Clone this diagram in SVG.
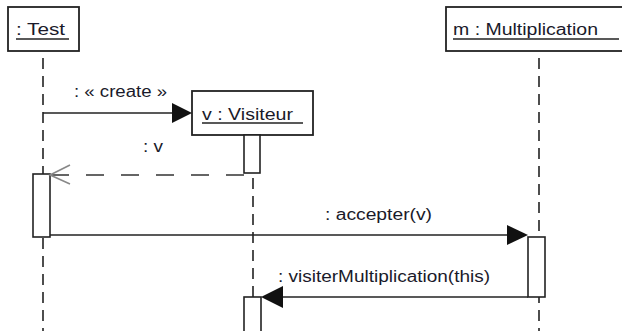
<svg xmlns="http://www.w3.org/2000/svg" width="622" height="331" viewBox="0 0 622 331">
<style>
.box{fill:#fff;stroke:#222;stroke-width:1.8}
.act{fill:#fff;stroke:#222;stroke-width:1.6}
.life{stroke:#222;stroke-width:1.6;stroke-dasharray:11 7;fill:none}
.msg{stroke:#222;stroke-width:1.6;fill:none}
.ret{stroke:#333;stroke-width:1.6;fill:none;stroke-dasharray:18 17}
.ul{stroke:#222;stroke-width:1.4}
text{font-family:"Liberation Sans",Arial,sans-serif;font-size:16px;fill:#1a1a2a}
.head{fill:#111;stroke:none}
</style>
<g id="lifelines">
<line class="life" x1="43" y1="58" x2="43" y2="331"/>
<line class="life" x1="253" y1="142" x2="253" y2="331"/>
<line class="life" x1="539" y1="58" x2="539" y2="331"/>
</g>
<g id="test">
<rect class="box" x="8" y="7" width="71" height="44"/>
<text x="16" y="35" textLength="49" lengthAdjust="spacingAndGlyphs">: Test</text>
<line class="ul" x1="16" y1="39" x2="69" y2="39"/>
</g>
<g id="visiteur">
<rect class="box" x="192" y="91" width="121" height="44"/>
<text x="202" y="120" textLength="91" lengthAdjust="spacingAndGlyphs">v : Visiteur</text>
<line class="ul" x1="202" y1="123" x2="303" y2="123"/>
</g>
<g id="multiplication">
<rect class="box" x="446" y="7" width="180" height="44"/>
<text x="453" y="35" textLength="145" lengthAdjust="spacingAndGlyphs">m : Multiplication</text>
<line class="ul" x1="453" y1="39" x2="619" y2="39"/>
</g>
<g id="activations">
<rect class="act" x="244" y="135" width="16" height="38"/>
<rect class="act" x="33" y="174" width="17" height="63"/>
<rect class="act" x="528" y="237" width="17" height="60"/>
<rect class="act" x="244" y="297" width="17" height="40"/>
</g>
<g id="connectors">
<line class="msg" x1="43" y1="113" x2="174" y2="113"/>
<polygon class="head" points="192,113 172,103 172,123"/>
<text x="74" y="97" textLength="93" lengthAdjust="spacingAndGlyphs">: « create »</text>
<line class="ret" x1="244" y1="175" x2="52" y2="175"/>
<polyline points="70,165 50,175 70,184" fill="none" stroke="#888" stroke-width="1.6"/>
<text x="143" y="152" textLength="20" lengthAdjust="spacingAndGlyphs">: v</text>
<line class="msg" x1="50" y1="235" x2="510" y2="235"/>
<polygon class="head" points="528,235 507,225 507,245"/>
<text x="325" y="220" textLength="107" lengthAdjust="spacingAndGlyphs">: accepter(v)</text>
<line class="msg" x1="528" y1="297" x2="280" y2="297"/>
<polygon class="head" points="261,297 283,286 283,308"/>
<text x="278" y="282" textLength="212" lengthAdjust="spacingAndGlyphs">: visiterMultiplication(this)</text>
</g>
</svg>
